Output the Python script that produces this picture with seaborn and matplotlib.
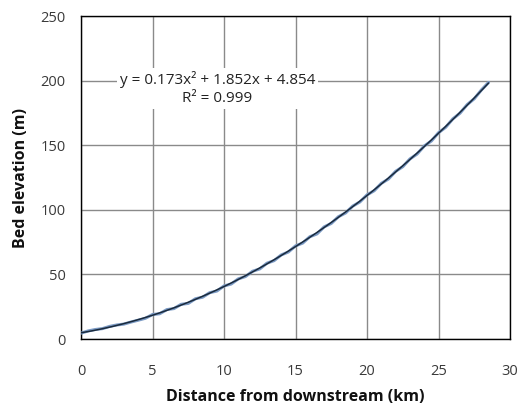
import matplotlib
matplotlib.use("Agg")
import matplotlib.pyplot as plt
import seaborn as sns
import numpy as np
import pandas as pd

# Surveyed bed profile (distance in km, elevation in m)
distance_km = [0.0, 0.5, 1.0, 1.5, 2.0, 2.5, 3.0, 3.5, 4.0, 4.5,
               5.0, 5.5, 6.0, 6.5, 7.0, 7.5, 8.0, 8.5, 9.0, 9.5,
               10.0, 10.5, 11.0, 11.5, 12.0, 12.5, 13.0, 13.5, 14.0, 14.5,
               15.0, 15.5, 16.0, 16.5, 17.0, 17.5, 18.0, 18.5, 19.0, 19.5,
               20.0, 20.5, 21.0, 21.5, 22.0, 22.5, 23.0, 23.5, 24.0, 24.5,
               25.0, 25.5, 26.0, 26.5, 27.0, 27.5, 28.0, 28.5]
elevation_m = [4.6, 6.3, 7.4, 8.1, 9.8, 10.9, 11.6, 13.2, 14.6, 16.1,
               19.0, 19.6, 22.8, 23.6, 26.9, 27.6, 31.2, 32.4, 35.9, 37.2,
               41.1, 42.6, 46.6, 48.4, 52.5, 54.3, 58.7, 60.7, 65.1, 67.4,
               72.1, 74.3, 79.2, 81.4, 86.8, 89.5, 94.7, 97.6, 102.9, 106.1,
               111.6, 114.8, 120.5, 123.9, 129.8, 133.4, 139.4, 143.2, 149.4, 153.3,
               159.7, 163.9, 170.4, 174.8, 181.4, 186.0, 192.8, 198.6]

# Quadratic trendline coefficients and fit quality
coef_a, coef_b, coef_c = 0.173, 1.852, 4.854
r_squared = 0.999

x_ticks = [0, 5, 10, 15, 20, 25, 30]
y_ticks = [0, 50, 100, 150, 200, 250]

sns.set_style("white")
plt.rcParams["font.family"] = ["Open Sans", "DejaVu Sans"]

fig = plt.figure(figsize=(5.18, 4.11), dpi=100)
ax = fig.add_axes([0.1564, 0.175, 0.8282, 0.786])

obs = pd.DataFrame({"distance": distance_km, "elevation": elevation_m})
xfit = np.linspace(0, max(distance_km), 200)
fit = pd.DataFrame({"distance": xfit,
                    "elevation": coef_a * xfit**2 + coef_b * xfit + coef_c})

sns.lineplot(data=obs, x="distance", y="elevation", ax=ax,
             color="#7b9ac4", linewidth=2.2, zorder=3)
sns.lineplot(data=fit, x="distance", y="elevation", ax=ax,
             color="#1a2a3c", linewidth=1.1, zorder=4)

ax.set_xlim(0, 30)
ax.set_ylim(0, 250)
ax.set_xticks(x_ticks)
ax.set_yticks(y_ticks)
ax.grid(True, color="#8a8a8a", linewidth=1.0)
ax.set_axisbelow(True)
for s in ax.spines.values():
    s.set_color("black")
    s.set_linewidth(1.0)
ax.tick_params(axis="both", direction="out", length=5, width=1.0,
               color="black", labelsize=10.5, labelcolor="#3a3a3a")
ax.tick_params(axis="x", pad=13)
ax.tick_params(axis="y", pad=6)

ax.set_xlabel("Distance from downstream (km)", fontsize=11.5, fontweight="bold",
              labelpad=7, color="#111111")
ax.set_ylabel("Bed elevation (m)", fontsize=11.5, fontweight="bold",
              labelpad=8, color="#111111")

eq = (f"y = {coef_a}x² + {coef_b}x + {coef_c}\n"
      f"R² = {r_squared}")
ax.text(9.55, 193.8, eq, ha="center", va="center", multialignment="center",
        fontsize=11, color="#222222", linespacing=1.3, zorder=5,
        bbox=dict(facecolor="white", edgecolor="none", pad=2))

fig.savefig("out.png", dpi=100)
